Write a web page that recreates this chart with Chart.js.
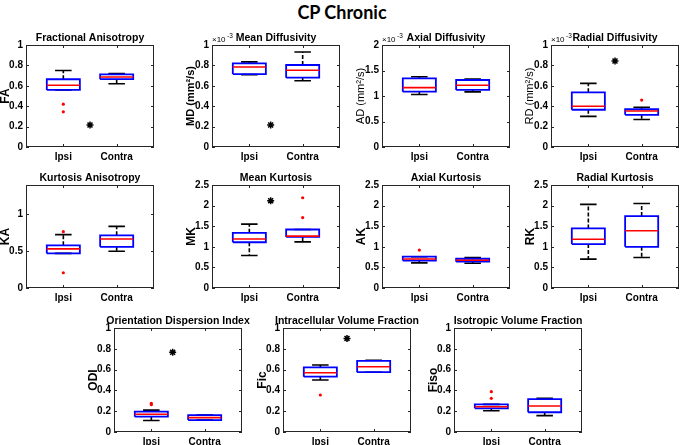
<!DOCTYPE html>
<html>
<head>
<meta charset="utf-8">
<script src="https://cdn.jsdelivr.net/npm/chart.js@4.4.1/dist/chart.umd.min.js"></script>
<style>
  body { margin: 0; background: #fff; width: 684px; height: 445px; position: relative; overflow: hidden; }
  #main { position: absolute; left: 0; top: 1px; width: 684px; text-align: center; font: bold 18px Lato, "Open Sans", sans-serif; color: #000; }
  canvas { position: absolute; }
</style>
</head>
<body>
<div id="main">CP Chronic</div>
<script>
// data
const groups = ['Ipsi', 'Contra'];
const titles = ['Fractional Anisotropy', 'Mean Diffusivity', 'Axial Diffusivity', 'Radial Diffusivity',
  'Kurtosis Anisotropy', 'Mean Kurtosis', 'Axial Kurtosis', 'Radial Kurtosis',
  'Orientation Dispersion Index', 'Intracellular Volume Fraction', 'Isotropic Volume Fraction'];
const yTitles = ['FA', 'MD (mm²/s)', 'AD (mm²/s)', 'RD (mm²/s)', 'KA', 'MK', 'AK', 'RK', 'ODI', 'Fic', 'Fiso'];
const scaled = [false, true, true, true, false, false, false, false, false, false, false]; // x10^-3
const yMax = [1, 1, 2, 1, 1.4, 2.5, 2.5, 2.5, 1, 1, 1];
const ticks01 = [0, 0.2, 0.4, 0.6, 0.8, 1];
const ticks2 = [0, 0.5, 1, 1.5, 2];
const ticks25 = [0, 0.5, 1, 1.5, 2, 2.5];
const yTicks = [ticks01, ticks01, ticks2, ticks01, [0, 0.5, 1], ticks25, ticks25, ticks25, ticks01, ticks01, ticks01];

// [Ipsi, Contra] per panel
const whiskerLo = [[0.56,0.62],[0.71,0.65],[1.03,1.08],[0.30,0.27],[0.47,0.50],[0.79,1.12],[0.61,0.60],[0.70,0.74],[0.11,0.115],[0.50,0.575],[0.205,0.157]];
const q1 =        [[0.56,0.665],[0.715,0.68],[1.085,1.12],[0.365,0.315],[0.47,0.56],[1.11,1.24],[0.665,0.64],[1.065,1.00],[0.147,0.115],[0.532,0.575],[0.228,0.19]];
const medians =   [[0.605,0.686],[0.785,0.752],[1.165,1.21],[0.40,0.353],[0.532,0.667],[1.19,1.258],[0.705,0.675],[1.185,1.39],[0.17,0.138],[0.57,0.628],[0.243,0.25]];
const q3 =        [[0.664,0.712],[0.82,0.804],[1.347,1.314],[0.536,0.37],[0.58,0.716],[1.338,1.42],[0.76,0.71],[1.445,1.745],[0.195,0.163],[0.622,0.683],[0.266,0.317]];
const whiskerHi = [[0.75,0.72],[0.835,0.932],[1.378,1.333],[0.624,0.39],[0.725,0.838],[1.55,1.42],[0.76,0.74],[2.03,2.05],[0.21,0.163],[0.644,0.69],[0.266,0.324]];
const outliers =  [[[0.42,0.345],[]],[[],[]],[[],[]],[[],[0.46]],[[0.766,0.207],[]],[[],[2.19,1.71]],[[0.92],[]],[[],[]],[[0.276,0.262],[]],[[0.356],[]],[[0.388,0.324],[]]];
const starX = [1.5, 1.4, null, 1.5, null, 1.4, null, null, 1.4, 1.5, null];
const starY = [0.216, 0.216, null, 0.843, null, 2.12, null, null, 0.766, 0.90, null];

// layout of the plot areas
const plotPos = [[26,45],[212,45],[382,45],[551,45],[26,185],[212,185],[382,185],[551,185],[114,328],[283,328],[454,328]];
const plotH = [102,102,102,102,103,103,103,103,104,104,104];
const PW = 128, LEFT = 28, TOP = 22, BOTTOM = 18, PAD = 24;
const BW = 0.62; // box width in x units
const FONT = '"Liberation Sans", Arial, sans-serif';

const frame = {
  id: 'frame',
  afterDraw(chart, args, o) {
    const { ctx, chartArea: a, scales: { x, y } } = chart;
    ctx.save();
    ctx.strokeStyle = '#262626';
    ctx.lineWidth = 1;
    ctx.strokeRect(a.left + 0.5, a.top + 0.5, a.right - a.left - 1, a.bottom - a.top - 1);
    ctx.beginPath();
    y.ticks.forEach(t => {
      const py = Math.round(y.getPixelForValue(t.value)) + 0.5;
      ctx.moveTo(a.left, py); ctx.lineTo(a.left + 3, py);
      ctx.moveTo(a.right - 3, py); ctx.lineTo(a.right, py);
    });
    x.ticks.forEach(t => {
      const px = Math.round(x.getPixelForValue(t.value)) + 0.5;
      ctx.moveTo(px, a.bottom); ctx.lineTo(px, a.bottom - 3);
      ctx.moveTo(px, a.top); ctx.lineTo(px, a.top + 3);
    });
    ctx.stroke();
    ctx.fillStyle = '#000';
    ctx.font = 'bold 10.5px ' + FONT;
    ctx.textAlign = 'center';
    ctx.textBaseline = 'alphabetic';
    ctx.fillText(o.title, (a.left + a.right) / 2, a.top - 4);
    if (o.scaled) {
      ctx.textAlign = 'left';
      ctx.font = '8px ' + FONT;
      ctx.fillText('×10', a.left, a.top - 3);
      ctx.font = '6.5px ' + FONT;
      ctx.fillText('-3', a.left + 15, a.top - 7);
    }
    ctx.restore();
  }
};

function seg(x1, y1, x2, y2) { return [{ x: x1, y: y1 }, { x: x2, y: y2 }, { x: x2, y: null }]; }

function makePanel(i) {
  const [pl, pt] = plotPos[i];
  const cv = document.createElement('canvas');
  cv.width = PAD + LEFT + PW + PAD;
  cv.height = TOP + plotH[i] + BOTTOM;
  cv.style.left = (pl - LEFT - PAD) + 'px';
  cv.style.top = (pt - TOP) + 'px';
  document.body.appendChild(cv);

  const boxes = [], meds = [], whisk = [], caps = [], outs = [];
  groups.forEach((g, k) => {
    const x = k + 1, h = BW / 2, c = BW / 4;
    boxes.push({ x: x - h, y: q1[i][k] }, { x: x + h, y: q1[i][k] }, { x: x + h, y: q3[i][k] },
      { x: x - h, y: q3[i][k] }, { x: x - h, y: q1[i][k] }, { x: x, y: null });
    meds.push(...seg(x - h, medians[i][k], x + h, medians[i][k]));
    whisk.push(...seg(x, q3[i][k], x, whiskerHi[i][k]), ...seg(x, q1[i][k], x, whiskerLo[i][k]));
    caps.push(...seg(x - c, whiskerHi[i][k], x + c, whiskerHi[i][k]), ...seg(x - c, whiskerLo[i][k], x + c, whiskerLo[i][k]));
    outliers[i][k].forEach(v => outs.push({ x: x, y: v }));
  });
  const line = (data, color, w, dash) => ({ data, showLine: true, borderColor: color, borderWidth: w,
    borderDash: dash || [], pointRadius: 0, fill: false, spanGaps: false });

  const datasets = [
    { data: outs, pointRadius: 1.6, pointBackgroundColor: '#ff0000', pointBorderWidth: 0, showLine: false },
    line(meds, '#ff0000', 1.6),
    line(boxes, '#0000ff', 1.8),
    line(caps, '#000000', 1.6),
    line(whisk, '#000000', 1.6, [4, 2])
  ];
  if (starX[i] !== null) {
    datasets.unshift({ data: [{ x: starX[i], y: starY[i] }], pointStyle: 'star', pointRadius: 3.5,
      pointBorderColor: '#000', pointBorderWidth: 1.5, showLine: false });
  }

  new Chart(cv, {
    type: 'scatter',
    data: { datasets },
    options: {
      responsive: false,
      animation: false,
      events: [],
      layout: { padding: { left: PAD, right: PAD, top: TOP, bottom: 0 } },
      plugins: { legend: { display: false }, tooltip: { enabled: false }, frame: { title: titles[i], scaled: scaled[i] } },
      scales: {
        x: {
          type: 'linear', min: 0.3, max: 2.7,
          grid: { display: false, drawTicks: false }, border: { display: false },
          afterBuildTicks: s => { s.ticks = [1, 2].map(v => ({ value: v })); },
          afterFit: s => { s.height = BOTTOM; },
          ticks: { padding: 4, color: '#000', font: { family: FONT, size: 10, weight: 'bold' },
            callback: v => groups[v - 1], autoSkip: false, maxRotation: 0 }
        },
        y: {
          type: 'linear', min: 0, max: yMax[i],
          grid: { display: false, drawTicks: false }, border: { display: false },
          afterBuildTicks: s => { s.ticks = yTicks[i].map(v => ({ value: v })); },
          afterFit: s => { s.width = LEFT; },
          ticks: { padding: 3, color: '#000', font: { family: FONT, size: 10, weight: 'bold' },
            callback: v => String(+v.toFixed(2)) },
          title: { display: true, text: yTitles[i], color: '#000', padding: 0,
            font: { family: FONT, size: yTitles[i].length > 4 ? 11 : 12, weight: scaled[i] && i > 1 ? 'normal' : 'bold' } }
        }
      }
    },
    plugins: [frame]
  });
}

titles.forEach((t, i) => makePanel(i));
</script>
</body>
</html>
